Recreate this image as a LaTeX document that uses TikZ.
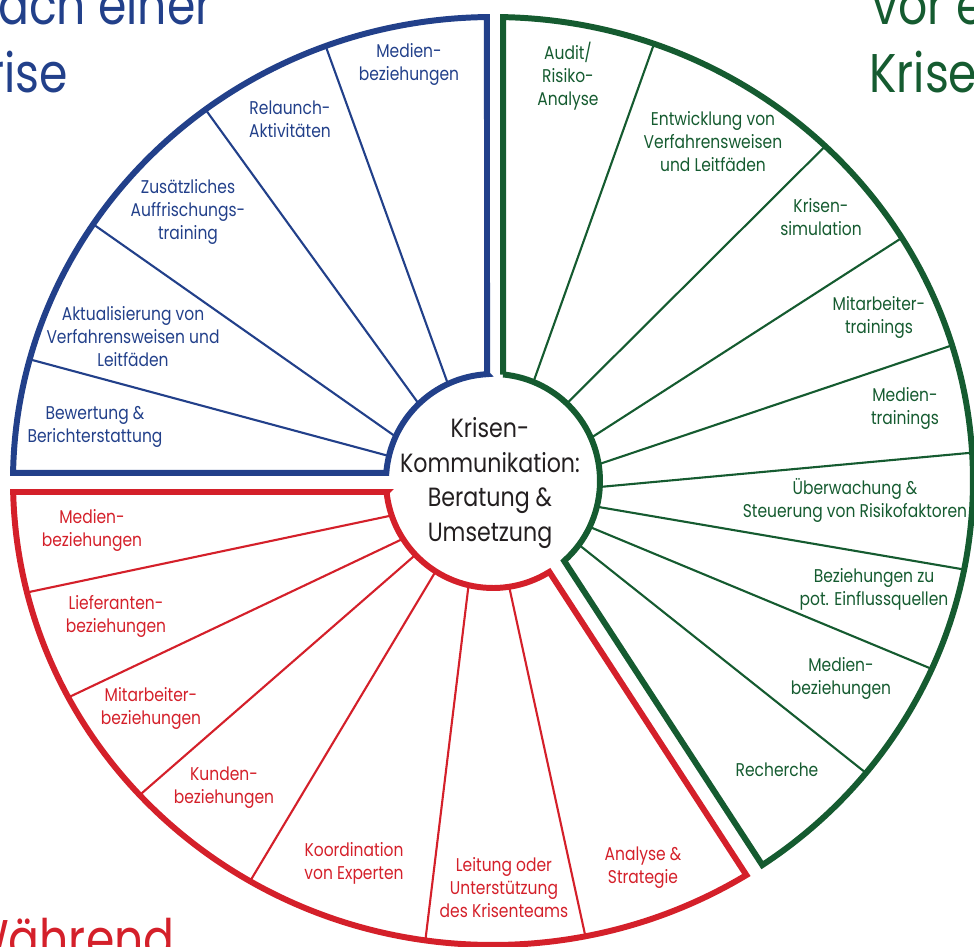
\documentclass[tikz,border=0pt]{standalone}
\usepackage{fontspec}
\setmainfont{Poppins}[FakeStretch=0.84]
\definecolor{kblau}{HTML}{22408A}
\definecolor{kgruen}{HTML}{155B30}
\definecolor{krot}{HTML}{D4202A}
\definecolor{ktext}{HTML}{231F20}

\begin{document}
\begin{tikzpicture}[rand/.style={line width=3.4pt},teiler/.style={line width=1.2pt},
  lbl/.style={align=center,font=\fontsize{10.5}{13.1}\selectfont,inner sep=0pt},
  titel/.style={font=\fontsize{31}{38}\selectfont,inner sep=0pt}]
  \useasboundingbox (-9.86,-9.32) rectangle (9.62,9.62);
  \clip (-9.86,-9.32) rectangle (9.62,9.62);
  % nach einer Krise (blau)
  \draw[rand,kblau] (93.2:2.14) -- ({9.6*cos(90.72)},{9.28*sin(90.72)})
    arc[start angle=90.72,end angle=179,x radius=9.6,y radius=9.28]
    -- (175.7:2.14) arc[start angle=175.7,end angle=93.2,radius=2.14] -- cycle;
  \foreach \a/\b in {166.5/164.8,155.5/146.4,133.9/126.8,114.9/110.4}
    \draw[teiler,kblau] (\a:2.14) -- ({9.6*cos(\b)},{9.28*sin(\b)});
  % vor einer Krise (gruen)
  \draw[rand,kgruen] (84.6:2.14) -- ({9.6*cos(88.8)},{9.28*sin(88.8)})
    arc[start angle=88.8,end angle=-55.87,x radius=9.6,y radius=9.28]
    -- (-48.3:2.14) arc[start angle=-48.3,end angle=84.6,radius=2.14] -- cycle;
  \foreach \a/\b in {67.8/70.4,46.4/46.2,23.75/31.6,9/17,-3.2/3.5,-13.9/-11,-25.4/-23.9,-36.6/-39}
    \draw[teiler,kgruen] (\a:2.14) -- ({9.6*cos(\b)},{9.28*sin(\b)});
  % waehrend einer Krise (rot)
  \draw[rand,krot] (185.9:2.14) -- ({9.6*cos(181.36)},{9.28*sin(181.36)})
    arc[start angle=181.36,end angle=301.86,x radius=9.6,y radius=9.28]
    -- (301.8:2.14) arc[start angle=301.8,end angle=185.9,radius=2.14] -- cycle;
  \foreach \a/\b in {198.8/193.9,212.7/207.8,223.6/222.6,237.6/239.6,256.8/261.9,278.7/281.1}
    \draw[teiler,krot] (\a:2.14) -- ({9.6*cos(\b)},{9.28*sin(\b)});
  % Mitte
  \node[align=center,text=ktext,font=\fontsize{15}{19.7}\selectfont,inner sep=0pt] (mitte) at (-0.06,-0.04)
    {Krisen-\\Kommunikation:\\Beratung \&\\Umsetzung};
  % Titel
  \node[titel,kblau,anchor=base east] (tnach1) at (-5.60,9.12) {nach einer};
  \node[titel,kblau,anchor=base east] (tnach2) at (-8.50,7.76) {Krise};
  \node[titel,kgruen,anchor=base west] (tvor1) at (7.58,9.12) {vor einer};
  \node[titel,kgruen,anchor=base west] (tvor2) at (7.52,7.76) {Krise};
  \node[titel,krot,anchor=base east] (twaehrend) at (-6.36,-9.56) {Während};
  % Felder blau
  \node[lbl,kblau] (b5) at (-1.68,8.34) {Medien-\\beziehungen};
  \node[lbl,kblau] (b4) at (-4.06,7.24) {Relaunch-\\Aktivitäten};
  \node[lbl,kblau] (b3) at (-6.10,5.38) {Zusätzliches\\Auffrischungs-\\training};
  \node[lbl,kblau] (b2) at (-7.20,2.88) {Aktualisierung von\\Verfahrensweisen und\\Leitfäden};
  \node[lbl,kblau] (b1) at (-7.96,1.08) {Bewertung \&\\Berichterstattung};
  % Felder gruen
  \node[lbl,kgruen] (g1) at (1.50,8.10) {Audit/\\Risiko-\\Analyse};
  \node[lbl,kgruen] (g2) at (4.40,6.78) {Entwicklung von\\Verfahrensweisen\\und Leitfäden};
  \node[lbl,kgruen] (g3) at (6.56,5.28) {Krisen-\\simulation};
  \node[lbl,kgruen] (g4) at (7.72,3.28) {Mitarbeiter-\\trainings};
  \node[lbl,kgruen] (g5) at (8.24,1.46) {Medien-\\trainings};
  \node[lbl,kgruen] (g6) at (7.24,-0.38) {Überwachung \&\\Steuerung von Risikofaktoren};
  \node[lbl,kgruen] (g7) at (7.62,-2.16) {Beziehungen zu\\pot. Einflussquellen};
  \node[lbl,kgruen] (g8) at (6.96,-3.94) {Medien-\\beziehungen};
  \node[lbl,kgruen] (g9) at (5.68,-5.78) {Recherche};
  % Felder rot
  \node[lbl,krot] (r1) at (-8.02,-0.98) {Medien-\\beziehungen};
  \node[lbl,krot] (r2) at (-7.54,-2.70) {Lieferanten-\\beziehungen};
  \node[lbl,krot] (r3) at (-6.84,-4.54) {Mitarbeiter-\\beziehungen};
  \node[lbl,krot] (r4) at (-5.38,-6.14) {Kunden-\\beziehungen};
  \node[lbl,krot] (r5) at (-2.78,-7.64) {Koordination\\von Experten};
  \node[lbl,krot] (r6) at (0.22,-8.14) {Leitung oder\\Unterstützung\\des Krisenteams};
  \node[lbl,krot] (r7) at (3.00,-7.74) {Analyse \&\\Strategie};
\end{tikzpicture}
\end{document}
